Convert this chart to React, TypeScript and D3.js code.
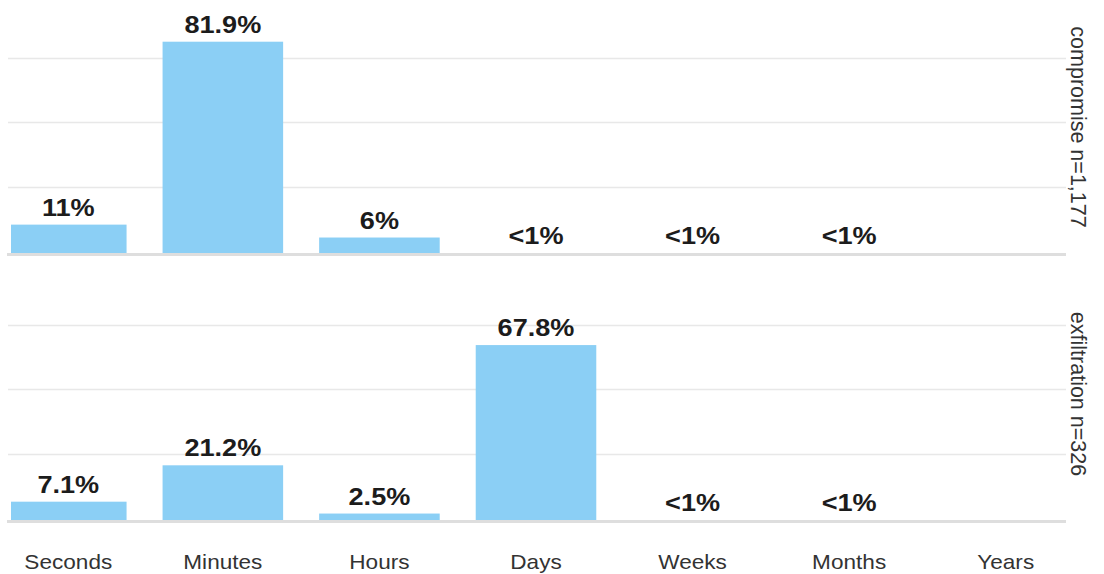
import React from 'react';
import * as d3 from 'd3';

// categories and values ("<1%" drawn as no bar)
const categories = ['Seconds', 'Minutes', 'Hours', 'Days', 'Weeks', 'Months', 'Years'];

const compromiseValues = [11, 81.9, 6, 0, 0, 0, 0];
const compromiseLabels = ['11%', '81.9%', '6%', '<1%', '<1%', '<1%', ''];

const exfiltrationValues = [7.1, 21.2, 2.5, 67.8, 0, 0, 0];
const exfiltrationLabels = ['7.1%', '21.2%', '2.5%', '67.8%', '<1%', '<1%', ''];

const panelTitles = ['compromise n=1,177', 'exfiltration n=326'];
const gridTicks = [25, 50, 75];

const W = 1104;
const H = 574;
const FONT = '"Liberation Sans", Arial, Helvetica, sans-serif';
const STRETCH = 1.13; // the source type is a bit wider than Arial

// first band runs off the left edge a little, it gets clipped below
const x = d3.scaleBand<string>()
  .domain(categories)
  .range([6, 1066])
  .paddingInner(0.23)
  .paddingOuter(0);

function Panel({ baseline, values, labels, title, titleY }:
  { baseline: number; values: number[]; labels: string[]; title: string; titleY: number }) {
  const y = d3.scaleLinear().domain([0, 100]).range([baseline, baseline - 258]);

  return (
    <g>
      {/* gridlines */}
      {gridTicks.map(t => (
        <line key={t} x1={8} x2={1066} y1={Math.round(y(t)) - 1.5} y2={Math.round(y(t)) - 1.5}
          stroke="#e8e8e8" strokeWidth={1.5} />
      ))}

      {/* bars */}
      <g clipPath="url(#plotClip)">
        {categories.map((c, i) => (
          values[i] > 0 ? (
            <rect key={c} x={x(c)} width={x.bandwidth()} y={y(values[i])}
              height={y(0) - y(values[i])} fill="#8bcff5" />
          ) : null
        ))}
      </g>

      {/* baseline */}
      <line x1={7} x2={1066} y1={baseline + 1.5} y2={baseline + 1.5} stroke="#dedede" strokeWidth={3} />

      {/* value labels */}
      {categories.map((c, i) => (
        labels[i] ? (
          <text key={c}
            transform={`translate(${(x(c) ?? 0) + x.bandwidth() / 2 + (i === 0 ? 2 : 0)},${y(values[i]) - 9}) scale(${STRETCH},1)`}
            textAnchor="middle" fontFamily={FONT} fontWeight="bold" fontSize={24} fill="#1c1c1c">
            {labels[i]}
          </text>
        ) : null
      ))}

      {/* panel title, rotated */}
      <text transform={`translate(1071,${titleY}) rotate(90)`} textAnchor="middle"
        fontFamily={FONT} fontSize={21.5} fill="#333">
        {title}
      </text>
    </g>
  );
}

export default function App() {
  return (
    <svg width={W} height={H} style={{ position: 'absolute', left: 0, top: 0, background: '#fff' }}>
      <defs>
        <clipPath id="plotClip">
          <rect x={11} y={0} width={1060} height={H} />
        </clipPath>
      </defs>
      <rect width={W} height={H} fill="#fff" />
      <Panel baseline={253} values={compromiseValues} labels={compromiseLabels}
        title={panelTitles[0]} titleY={127} />
      <Panel baseline={520} values={exfiltrationValues} labels={exfiltrationLabels}
        title={panelTitles[1]} titleY={394} />

      {/* category axis */}
      {categories.map((c, i) => (
        <text key={c}
          transform={`translate(${(x(c) ?? 0) + x.bandwidth() / 2 + (i === 0 ? 2 : 0)},569) scale(${STRETCH},1)`}
          textAnchor="middle" fontFamily={FONT} fontSize={20} fill="#333">
          {c}
        </text>
      ))}
    </svg>
  );
}
